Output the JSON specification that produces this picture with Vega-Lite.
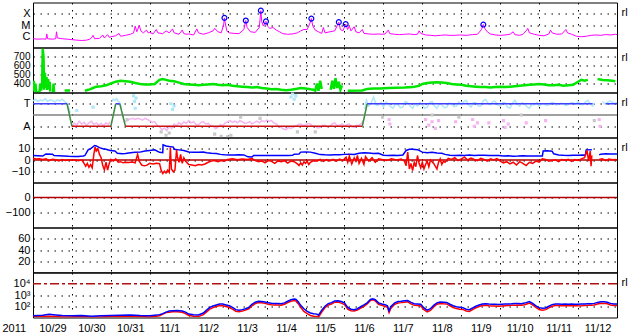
{
"$schema": "https://vega.github.io/schema/vega-lite/v6.json",
"background": "white",
"padding": {"left": 1, "top": 1.5, "right": 0, "bottom": 0},
"spacing": 0,
"bounds": "flush",
"config": {
 "view": {"stroke": "#000000", "strokeWidth": 1},
 "axis": {"grid": true, "gridColor": "#000000", "gridDash": [1.5, 5.5], "gridOpacity": 1, "gridWidth": 1, "domain": false, "ticks": false, "tickSize": 0, "labelFont": "Liberation Sans Narrow, Liberation Sans, sans-serif", "labelFontSize": 11, "labelColor": "#000000", "labelOverlap": false, "labelFlush": false, "labelBound": false, "labelPadding": 3, "titleFont": "Liberation Sans Narrow, Liberation Sans, sans-serif", "titleFontSize": 11, "titleFontWeight": "normal", "titleColor": "#000000", "titlePadding": 0}
},
"datasets": {
 "span": [{"t":"2011-10-29T00:00"},{"t":"2011-11-13T00:00"}],
 "xray": [
{"t":"2011-10-29T00:00","f":6e-7},{"t":"2011-10-29T03:00","f":5.5e-7},{"t":"2011-10-29T06:00","f":5.8e-7},{"t":"2011-10-29T08:00","f":5.5e-7},{"t":"2011-10-29T08:30","f":1.6e-6},{"t":"2011-10-29T09:00","f":6e-7},{"t":"2011-10-29T12:00","f":5.5e-7},{"t":"2011-10-29T14:00","f":6e-7},{"t":"2011-10-29T14:30","f":2.5e-6},{"t":"2011-10-29T15:00","f":7e-7},{"t":"2011-10-29T18:00","f":6e-7},{"t":"2011-10-29T21:00","f":5.5e-7},
{"t":"2011-10-30T00:00","f":5e-7},{"t":"2011-10-30T03:00","f":4.5e-7},{"t":"2011-10-30T06:00","f":4.2e-7},{"t":"2011-10-30T09:00","f":4.5e-7},{"t":"2011-10-30T11:00","f":5.5e-7},{"t":"2011-10-30T12:00","f":7e-7},{"t":"2011-10-30T13:00","f":1.2e-6},{"t":"2011-10-30T14:00","f":6e-7},{"t":"2011-10-30T17:00","f":6.5e-7},{"t":"2011-10-30T19:00","f":1.3e-6},{"t":"2011-10-30T20:00","f":7e-7},{"t":"2011-10-30T22:00","f":1.4e-6},{"t":"2011-10-30T23:00","f":8e-7},
{"t":"2011-10-31T00:00","f":9e-7},{"t":"2011-10-31T03:00","f":1.1e-6},{"t":"2011-10-31T05:00","f":1.8e-6},{"t":"2011-10-31T06:00","f":1e-6},{"t":"2011-10-31T09:00","f":1.2e-6},{"t":"2011-10-31T12:00","f":1.5e-6},{"t":"2011-10-31T14:00","f":2e-6},{"t":"2011-10-31T15:00","f":8e-6},{"t":"2011-10-31T16:00","f":2.5e-6},{"t":"2011-10-31T17:30","f":9e-6},{"t":"2011-10-31T18:30","f":3e-6},{"t":"2011-10-31T20:00","f":2e-6},{"t":"2011-10-31T22:00","f":3.5e-6},{"t":"2011-10-31T23:00","f":2e-6},
{"t":"2011-11-01T00:00","f":2.2e-6},{"t":"2011-11-01T02:00","f":1.6e-6},{"t":"2011-11-01T04:00","f":4e-6},{"t":"2011-11-01T05:00","f":2e-6},{"t":"2011-11-01T08:00","f":1.7e-6},{"t":"2011-11-01T10:00","f":3e-6},{"t":"2011-11-01T12:00","f":2e-6},{"t":"2011-11-01T14:00","f":4.5e-6},{"t":"2011-11-01T15:00","f":2e-6},{"t":"2011-11-01T18:00","f":1.5e-6},{"t":"2011-11-01T20:00","f":3.5e-6},{"t":"2011-11-01T21:00","f":1.7e-6},{"t":"2011-11-01T23:00","f":1.5e-6},
{"t":"2011-11-02T00:00","f":1.6e-6},{"t":"2011-11-02T03:00","f":1.3e-6},{"t":"2011-11-02T05:00","f":4.5e-6},{"t":"2011-11-02T06:00","f":2e-6},{"t":"2011-11-02T09:00","f":1.5e-6},{"t":"2011-11-02T12:00","f":2e-6},{"t":"2011-11-02T15:00","f":3e-6},{"t":"2011-11-02T16:00","f":5e-6},{"t":"2011-11-02T18:00","f":2.5e-6},{"t":"2011-11-02T20:00","f":2e-6},{"t":"2011-11-02T21:30","f":1e-5},{"t":"2011-11-02T22:01","f":4.3e-5},{"t":"2011-11-02T22:30","f":1.5e-5},{"t":"2011-11-02T23:30","f":3e-6},
{"t":"2011-11-03T01:00","f":2e-6},{"t":"2011-11-03T04:00","f":1.8e-6},{"t":"2011-11-03T07:00","f":1.7e-6},{"t":"2011-11-03T10:00","f":4e-6},{"t":"2011-11-03T11:11","f":2.5e-5},{"t":"2011-11-03T12:00","f":6e-6},{"t":"2011-11-03T14:00","f":2.5e-6},{"t":"2011-11-03T17:00","f":2.2e-6},{"t":"2011-11-03T19:30","f":6e-6},{"t":"2011-11-03T20:27","f":1.9e-4},{"t":"2011-11-03T21:00","f":2e-5},{"t":"2011-11-03T22:00","f":8e-6},{"t":"2011-11-03T23:36","f":2.1e-5},
{"t":"2011-11-04T00:30","f":8e-6},{"t":"2011-11-04T02:00","f":5e-6},{"t":"2011-11-04T04:00","f":6e-6},{"t":"2011-11-04T06:00","f":3.5e-6},{"t":"2011-11-04T08:00","f":2.5e-6},{"t":"2011-11-04T10:00","f":1.7e-6},{"t":"2011-11-04T13:00","f":1.5e-6},{"t":"2011-11-04T16:00","f":1.6e-6},{"t":"2011-11-04T19:00","f":2e-6},{"t":"2011-11-04T21:00","f":3e-6},{"t":"2011-11-04T23:00","f":4e-6},
{"t":"2011-11-05T01:00","f":4e-6},{"t":"2011-11-05T02:30","f":1.2e-5},{"t":"2011-11-05T03:35","f":3.7e-5},{"t":"2011-11-05T04:30","f":8e-6},{"t":"2011-11-05T06:00","f":3.5e-6},{"t":"2011-11-05T08:00","f":2.5e-6},{"t":"2011-11-05T10:00","f":1.8e-6},{"t":"2011-11-05T11:00","f":6e-6},{"t":"2011-11-05T12:00","f":2e-6},{"t":"2011-11-05T15:00","f":2.5e-6},{"t":"2011-11-05T18:00","f":3e-6},{"t":"2011-11-05T20:31","f":1.8e-5},{"t":"2011-11-05T21:30","f":4e-6},{"t":"2011-11-05T23:00","f":3e-6},
{"t":"2011-11-06T00:46","f":1.2e-5},{"t":"2011-11-06T02:00","f":4e-6},{"t":"2011-11-06T03:00","f":8e-6},{"t":"2011-11-06T04:00","f":3e-6},{"t":"2011-11-06T06:00","f":7e-6},{"t":"2011-11-06T07:00","f":2.5e-6},{"t":"2011-11-06T09:00","f":2e-6},{"t":"2011-11-06T11:00","f":4e-6},{"t":"2011-11-06T12:00","f":1.8e-6},{"t":"2011-11-06T15:00","f":1.6e-6},{"t":"2011-11-06T18:00","f":1.5e-6},{"t":"2011-11-06T21:00","f":1.6e-6},{"t":"2011-11-06T23:00","f":1.5e-6},
{"t":"2011-11-07T01:00","f":1.6e-6},{"t":"2011-11-07T03:00","f":3.5e-6},{"t":"2011-11-07T04:00","f":1.7e-6},{"t":"2011-11-07T07:00","f":1.5e-6},{"t":"2011-11-07T10:00","f":1.4e-6},{"t":"2011-11-07T13:00","f":1.5e-6},{"t":"2011-11-07T16:00","f":1.6e-6},{"t":"2011-11-07T19:00","f":1.4e-6},{"t":"2011-11-07T21:00","f":1.5e-6},{"t":"2011-11-07T22:00","f":3e-6},{"t":"2011-11-07T23:00","f":1.8e-6},
{"t":"2011-11-08T02:00","f":1.3e-6},{"t":"2011-11-08T05:00","f":1.2e-6},{"t":"2011-11-08T08:00","f":1.1e-6},{"t":"2011-11-08T11:00","f":1.2e-6},{"t":"2011-11-08T14:00","f":1.3e-6},{"t":"2011-11-08T17:00","f":1.2e-6},{"t":"2011-11-08T20:00","f":1.2e-6},{"t":"2011-11-08T23:00","f":1.3e-6},
{"t":"2011-11-09T03:00","f":1.2e-6},{"t":"2011-11-09T07:00","f":1.4e-6},{"t":"2011-11-09T10:00","f":1.5e-6},{"t":"2011-11-09T12:30","f":4e-6},{"t":"2011-11-09T13:35","f":1.1e-5},{"t":"2011-11-09T14:30","f":5e-6},{"t":"2011-11-09T16:00","f":2.5e-6},{"t":"2011-11-09T18:00","f":1.6e-6},{"t":"2011-11-09T21:00","f":1.3e-6},
{"t":"2011-11-10T00:00","f":1.2e-6},{"t":"2011-11-10T03:00","f":1.3e-6},{"t":"2011-11-10T06:00","f":1.5e-6},{"t":"2011-11-10T08:00","f":2.5e-6},{"t":"2011-11-10T09:00","f":1.4e-6},{"t":"2011-11-10T12:00","f":1.2e-6},{"t":"2011-11-10T14:00","f":1.5e-6},{"t":"2011-11-10T16:00","f":3e-6},{"t":"2011-11-10T17:00","f":5e-6},{"t":"2011-11-10T18:00","f":2e-6},{"t":"2011-11-10T21:00","f":1.5e-6},
{"t":"2011-11-11T00:00","f":1.2e-6},{"t":"2011-11-11T03:00","f":1.1e-6},{"t":"2011-11-11T06:00","f":1.6e-6},{"t":"2011-11-11T07:00","f":3.5e-6},{"t":"2011-11-11T08:00","f":2e-6},{"t":"2011-11-11T11:00","f":1.5e-6},{"t":"2011-11-11T14:00","f":1.6e-6},{"t":"2011-11-11T16:30","f":4e-6},{"t":"2011-11-11T17:30","f":2e-6},{"t":"2011-11-11T20:00","f":1.5e-6},{"t":"2011-11-11T23:00","f":1e-6},
{"t":"2011-11-12T02:00","f":9e-7},{"t":"2011-11-12T05:00","f":1e-6},{"t":"2011-11-12T08:00","f":1.2e-6},{"t":"2011-11-12T11:00","f":1.3e-6},{"t":"2011-11-12T14:00","f":1.2e-6},{"t":"2011-11-12T17:00","f":1.4e-6},{"t":"2011-11-12T20:00","f":1.3e-6},{"t":"2011-11-12T23:00","f":1.5e-6},{"t":"2011-11-12T23:59","f":1.4e-6}
 ],
 "flare": [
{"t":"2011-11-02T22:01","f":4.3e-5},{"t":"2011-11-03T11:11","f":2.5e-5},{"t":"2011-11-03T20:27","f":1.9e-4},{"t":"2011-11-03T23:36","f":2.1e-5},{"t":"2011-11-05T03:35","f":3.7e-5},{"t":"2011-11-05T20:31","f":1.8e-5},{"t":"2011-11-06T00:46","f":1.2e-5},{"t":"2011-11-09T13:35","f":1.1e-5}
 ],
 "sw": [
{"t":"2011-10-29T00:00","v":320},{"t":"2011-10-29T00:30","v":430},{"t":"2011-10-29T01:00","v":310},{"t":"2011-10-29T01:30","v":400},{"t":"2011-10-29T02:00","v":305},{"t":"2011-10-29T03:00","v":300},{"t":"2011-10-29T04:00","v":310},{"t":"2011-10-29T04:30","v":400},{"t":"2011-10-29T05:00","v":320},{"t":"2011-10-29T05:40","v":420},{"t":"2011-10-29T06:00","v":785},{"t":"2011-10-29T06:30","v":700},{"t":"2011-10-29T06:50","v":330},{"t":"2011-10-29T07:20","v":520},{"t":"2011-10-29T07:50","v":350},{"t":"2011-10-29T08:20","v":470},{"t":"2011-10-29T08:50","v":330},{"t":"2011-10-29T09:20","v":450},{"t":"2011-10-29T09:50","v":340},{"t":"2011-10-29T10:20","v":420},{"t":"2011-10-29T10:40","v":310},{"t":"2011-10-29T11:00","v":null},{"t":"2011-10-29T12:20","v":300},{"t":"2011-10-29T12:40","v":400},{"t":"2011-10-29T13:00","v":300},{"t":"2011-10-29T13:20","v":null},{"t":"2011-10-29T19:30","v":322},{"t":"2011-10-29T22:50","v":322},{"t":"2011-10-29T23:00","v":null},
{"t":"2011-10-30T08:00","v":320},{"t":"2011-10-30T10:00","v":330},{"t":"2011-10-30T11:00","v":335},{"t":"2011-10-30T13:00","v":350},{"t":"2011-10-30T15:00","v":365},{"t":"2011-10-30T18:00","v":370},{"t":"2011-10-30T21:00","v":380},
{"t":"2011-10-31T00:00","v":400},{"t":"2011-10-31T03:00","v":420},{"t":"2011-10-31T06:00","v":430},{"t":"2011-10-31T09:00","v":425},{"t":"2011-10-31T12:00","v":420},{"t":"2011-10-31T15:00","v":405},{"t":"2011-10-31T18:00","v":395},{"t":"2011-10-31T21:00","v":390},
{"t":"2011-11-01T00:00","v":390},{"t":"2011-11-01T03:00","v":395},{"t":"2011-11-01T06:00","v":440},{"t":"2011-11-01T08:00","v":450},{"t":"2011-11-01T10:00","v":440},{"t":"2011-11-01T12:00","v":430},{"t":"2011-11-01T15:00","v":425},{"t":"2011-11-01T18:00","v":410},{"t":"2011-11-01T21:00","v":395},
{"t":"2011-11-02T00:00","v":390},{"t":"2011-11-02T03:00","v":385},{"t":"2011-11-02T06:00","v":380},{"t":"2011-11-02T09:00","v":385},{"t":"2011-11-02T12:00","v":390},{"t":"2011-11-02T15:00","v":395},{"t":"2011-11-02T18:00","v":385},{"t":"2011-11-02T21:00","v":380},
{"t":"2011-11-03T00:00","v":385},{"t":"2011-11-03T03:00","v":375},{"t":"2011-11-03T06:00","v":370},{"t":"2011-11-03T09:00","v":365},{"t":"2011-11-03T12:00","v":360},{"t":"2011-11-03T15:00","v":355},{"t":"2011-11-03T18:00","v":360},{"t":"2011-11-03T21:00","v":350},
{"t":"2011-11-04T00:00","v":345},{"t":"2011-11-04T03:00","v":335},{"t":"2011-11-04T06:00","v":340},{"t":"2011-11-04T09:00","v":330},{"t":"2011-11-04T12:00","v":325},{"t":"2011-11-04T15:00","v":330},{"t":"2011-11-04T18:00","v":340},{"t":"2011-11-04T21:00","v":350},
{"t":"2011-11-05T00:00","v":345},{"t":"2011-11-05T03:00","v":335},{"t":"2011-11-05T05:00","v":330},{"t":"2011-11-05T06:00","v":320},{"t":"2011-11-05T07:00","v":400},{"t":"2011-11-05T08:00","v":320},{"t":"2011-11-05T09:00","v":430},{"t":"2011-11-05T10:00","v":340},{"t":"2011-11-05T10:30","v":null},{"t":"2011-11-05T15:30","v":330},{"t":"2011-11-05T16:30","v":430},{"t":"2011-11-05T17:30","v":340},{"t":"2011-11-05T18:30","v":460},{"t":"2011-11-05T19:30","v":350},{"t":"2011-11-05T20:30","v":420},{"t":"2011-11-05T21:30","v":330},{"t":"2011-11-05T22:30","v":380},{"t":"2011-11-05T23:00","v":null},
{"t":"2011-11-06T02:00","v":320},{"t":"2011-11-06T11:00","v":322},{"t":"2011-11-06T14:00","v":340},{"t":"2011-11-06T18:00","v":345},{"t":"2011-11-06T22:00","v":345},
{"t":"2011-11-07T03:00","v":350},{"t":"2011-11-07T08:00","v":352},{"t":"2011-11-07T13:00","v":355},{"t":"2011-11-07T18:00","v":360},{"t":"2011-11-07T22:00","v":375},
{"t":"2011-11-08T00:00","v":395},{"t":"2011-11-08T03:00","v":405},{"t":"2011-11-08T06:00","v":410},{"t":"2011-11-08T09:00","v":415},{"t":"2011-11-08T12:00","v":410},{"t":"2011-11-08T15:00","v":405},{"t":"2011-11-08T18:00","v":395},{"t":"2011-11-08T21:00","v":390},
{"t":"2011-11-09T00:00","v":385},{"t":"2011-11-09T03:00","v":375},{"t":"2011-11-09T06:00","v":370},{"t":"2011-11-09T09:00","v":365},{"t":"2011-11-09T12:00","v":360},{"t":"2011-11-09T15:00","v":360},{"t":"2011-11-09T18:00","v":355},{"t":"2011-11-09T21:00","v":360},
{"t":"2011-11-10T00:00","v":365},{"t":"2011-11-10T03:00","v":360},{"t":"2011-11-10T06:00","v":365},{"t":"2011-11-10T09:00","v":370},{"t":"2011-11-10T12:00","v":375},{"t":"2011-11-10T15:00","v":380},{"t":"2011-11-10T18:00","v":385},{"t":"2011-11-10T21:00","v":390},
{"t":"2011-11-11T00:00","v":395},{"t":"2011-11-11T03:00","v":390},{"t":"2011-11-11T06:00","v":380},{"t":"2011-11-11T09:00","v":380},{"t":"2011-11-11T12:00","v":385},{"t":"2011-11-11T15:00","v":375},{"t":"2011-11-11T18:00","v":380},{"t":"2011-11-11T21:00","v":385},
{"t":"2011-11-12T00:00","v":420},{"t":"2011-11-12T02:00","v":440},{"t":"2011-11-12T04:00","v":430},{"t":"2011-11-12T06:00","v":440},{"t":"2011-11-12T07:00","v":null},{"t":"2011-11-12T12:00","v":450},{"t":"2011-11-12T15:00","v":440},{"t":"2011-11-12T18:00","v":435},{"t":"2011-11-12T21:00","v":430},{"t":"2011-11-12T23:00","v":425}
 ],
 "phi": [
{"t":"2011-10-29T00:00","v":1.25,"k":"tw","s":"t1"},{"t":"2011-10-29T01:30","v":1.4,"k":"tw","s":"t1"},{"t":"2011-10-29T03:00","v":1.2,"k":"tw","s":"t1"},{"t":"2011-10-29T04:30","v":1.35,"k":"tw","s":"t1"},{"t":"2011-10-29T06:00","v":1.25,"k":"tw","s":"t1"},{"t":"2011-10-29T07:30","v":1.45,"k":"tw","s":"t1"},{"t":"2011-10-29T09:00","v":1.2,"k":"tw","s":"t1"},{"t":"2011-10-29T10:30","v":1.35,"k":"tw","s":"t1"},{"t":"2011-10-29T12:00","v":1.3,"k":"tw","s":"t1"},{"t":"2011-10-29T13:30","v":1.15,"k":"tw","s":"t1"},{"t":"2011-10-29T15:00","v":1.35,"k":"tw","s":"t1"},{"t":"2011-10-29T16:30","v":1.25,"k":"tw","s":"t1"},{"t":"2011-10-29T18:00","v":1.4,"k":"tw","s":"t1"},{"t":"2011-10-29T19:30","v":1.2,"k":"tw","s":"t1"},{"t":"2011-10-29T21:00","v":1.0,"k":"tw","s":"t1"},{"t":"2011-10-29T22:00","v":0.6,"k":"tw","s":"t1"},{"t":"2011-10-29T23:00","v":0.2,"k":"tw","s":"t1"},
{"t":"2011-10-30T00:00","v":-1.1,"k":"aw","s":"a1"},{"t":"2011-10-30T01:30","v":-0.7,"k":"aw","s":"a1"},{"t":"2011-10-30T03:00","v":-0.9,"k":"aw","s":"a1"},{"t":"2011-10-30T04:30","v":-0.55,"k":"aw","s":"a1"},{"t":"2011-10-30T06:00","v":-0.8,"k":"aw","s":"a1"},{"t":"2011-10-30T07:30","v":-0.65,"k":"aw","s":"a1"},{"t":"2011-10-30T09:00","v":-0.95,"k":"aw","s":"a1"},{"t":"2011-10-30T10:30","v":-0.7,"k":"aw","s":"a1"},{"t":"2011-10-30T12:00","v":-0.55,"k":"aw","s":"a1"},{"t":"2011-10-30T13:30","v":-0.85,"k":"aw","s":"a1"},{"t":"2011-10-30T15:00","v":-0.7,"k":"aw","s":"a1"},{"t":"2011-10-30T16:30","v":-0.9,"k":"aw","s":"a1"},{"t":"2011-10-30T18:00","v":-0.75,"k":"aw","s":"a1"},{"t":"2011-10-30T19:30","v":-0.95,"k":"aw","s":"a1"},{"t":"2011-10-30T21:00","v":-0.7,"k":"aw","s":"a1"},{"t":"2011-10-30T22:30","v":-0.85,"k":"aw","s":"a1"},{"t":"2011-10-30T23:30","v":-0.6,"k":"aw","s":"a1"},
{"t":"2011-10-31T00:30","v":1.2,"k":"tw","s":"t2"},{"t":"2011-10-31T01:30","v":1.4,"k":"tw","s":"t2"},{"t":"2011-10-31T02:30","v":1.3,"k":"tw","s":"t2"},{"t":"2011-10-31T03:30","v":1.45,"k":"tw","s":"t2"},{"t":"2011-10-31T04:30","v":1.25,"k":"tw","s":"t2"},{"t":"2011-10-31T05:30","v":1.1,"k":"tw","s":"t2"},{"t":"2011-10-31T06:30","v":0.6,"k":"tw","s":"t2"},
{"t":"2011-10-31T07:30","v":-0.5,"k":"aw","s":"a2"},{"t":"2011-10-31T09:00","v":-0.6,"k":"aw","s":"a2"},{"t":"2011-10-31T10:30","v":-0.45,"k":"aw","s":"a2"},{"t":"2011-10-31T12:00","v":-0.35,"k":"aw","s":"a2"},{"t":"2011-10-31T13:30","v":-0.3,"k":"aw","s":"a2"},{"t":"2011-10-31T15:00","v":-0.4,"k":"aw","s":"a2"},{"t":"2011-10-31T16:30","v":-0.3,"k":"aw","s":"a2"},{"t":"2011-10-31T18:00","v":-0.35,"k":"aw","s":"a2"},{"t":"2011-10-31T19:30","v":-0.45,"k":"aw","s":"a2"},{"t":"2011-10-31T21:00","v":-0.3,"k":"aw","s":"a2"},{"t":"2011-10-31T22:30","v":-0.4,"k":"aw","s":"a2"},
{"t":"2011-11-01T00:00","v":-0.5,"k":"aw","s":"a2"},{"t":"2011-11-01T01:30","v":-0.65,"k":"aw","s":"a2"},{"t":"2011-11-01T03:00","v":-0.6,"k":"aw","s":"a2"},{"t":"2011-11-01T04:30","v":-0.9,"k":"aw","s":"a2"},{"t":"2011-11-01T06:00","v":-1.05,"k":"aw","s":"a2"},{"t":"2011-11-01T07:30","v":-1.3,"k":"aw","s":"a2"},{"t":"2011-11-01T09:00","v":-1.15,"k":"aw","s":"a2"},{"t":"2011-11-01T10:30","v":-1.4,"k":"aw","s":"a2"},{"t":"2011-11-01T12:00","v":-1.0,"k":"aw","s":"a2"},{"t":"2011-11-01T13:30","v":-1.2,"k":"aw","s":"a2"},{"t":"2011-11-01T15:00","v":-0.8,"k":"aw","s":"a2"},{"t":"2011-11-01T16:30","v":-0.95,"k":"aw","s":"a2"},{"t":"2011-11-01T18:00","v":-0.7,"k":"aw","s":"a2"},{"t":"2011-11-01T19:30","v":-0.85,"k":"aw","s":"a2"},{"t":"2011-11-01T21:00","v":-0.6,"k":"aw","s":"a2"},{"t":"2011-11-01T22:30","v":-0.75,"k":"aw","s":"a2"},
{"t":"2011-11-02T00:00","v":-0.5,"k":"aw","s":"a2"},{"t":"2011-11-02T01:30","v":-0.7,"k":"aw","s":"a2"},{"t":"2011-11-02T03:00","v":-0.6,"k":"aw","s":"a2"},{"t":"2011-11-02T04:30","v":-0.85,"k":"aw","s":"a2"},{"t":"2011-11-02T06:00","v":-0.9,"k":"aw","s":"a2"},{"t":"2011-11-02T07:30","v":-0.65,"k":"aw","s":"a2"},{"t":"2011-11-02T09:00","v":-0.6,"k":"aw","s":"a2"},{"t":"2011-11-02T10:30","v":-0.8,"k":"aw","s":"a2"},{"t":"2011-11-02T12:00","v":-0.75,"k":"aw","s":"a2"},{"t":"2011-11-02T13:30","v":-0.95,"k":"aw","s":"a2"},{"t":"2011-11-02T15:00","v":-1.0,"k":"aw","s":"a2"},{"t":"2011-11-02T16:30","v":-1.2,"k":"aw","s":"a2"},{"t":"2011-11-02T18:00","v":-1.1,"k":"aw","s":"a2"},{"t":"2011-11-02T19:30","v":-0.85,"k":"aw","s":"a2"},{"t":"2011-11-02T21:00","v":-0.95,"k":"aw","s":"a2"},{"t":"2011-11-02T22:30","v":-0.7,"k":"aw","s":"a2"},
{"t":"2011-11-03T00:00","v":-0.6,"k":"aw","s":"a2"},{"t":"2011-11-03T01:30","v":-0.5,"k":"aw","s":"a2"},{"t":"2011-11-03T03:00","v":-0.65,"k":"aw","s":"a2"},{"t":"2011-11-03T04:30","v":-0.55,"k":"aw","s":"a2"},{"t":"2011-11-03T06:00","v":-0.7,"k":"aw","s":"a2"},{"t":"2011-11-03T07:30","v":-0.5,"k":"aw","s":"a2"},{"t":"2011-11-03T09:00","v":-0.6,"k":"aw","s":"a2"},{"t":"2011-11-03T10:30","v":-0.75,"k":"aw","s":"a2"},{"t":"2011-11-03T12:00","v":-0.7,"k":"aw","s":"a2"},{"t":"2011-11-03T13:30","v":-0.6,"k":"aw","s":"a2"},{"t":"2011-11-03T15:00","v":-0.8,"k":"aw","s":"a2"},{"t":"2011-11-03T16:30","v":-0.65,"k":"aw","s":"a2"},{"t":"2011-11-03T18:00","v":-0.55,"k":"aw","s":"a2"},{"t":"2011-11-03T19:30","v":-0.7,"k":"aw","s":"a2"},{"t":"2011-11-03T21:00","v":-0.5,"k":"aw","s":"a2"},{"t":"2011-11-03T22:30","v":-0.6,"k":"aw","s":"a2"},
{"t":"2011-11-04T00:00","v":-0.45,"k":"aw","s":"a2"},{"t":"2011-11-04T01:30","v":-0.55,"k":"aw","s":"a2"},{"t":"2011-11-04T03:00","v":-0.5,"k":"aw","s":"a2"},{"t":"2011-11-04T04:30","v":-0.7,"k":"aw","s":"a2"},{"t":"2011-11-04T06:00","v":-0.8,"k":"aw","s":"a2"},{"t":"2011-11-04T07:30","v":-1.0,"k":"aw","s":"a2"},{"t":"2011-11-04T09:00","v":-1.1,"k":"aw","s":"a2"},{"t":"2011-11-04T10:30","v":-1.25,"k":"aw","s":"a2"},{"t":"2011-11-04T12:00","v":-1.3,"k":"aw","s":"a2"},{"t":"2011-11-04T13:30","v":-1.1,"k":"aw","s":"a2"},{"t":"2011-11-04T15:00","v":-1.2,"k":"aw","s":"a2"},{"t":"2011-11-04T16:30","v":-1.05,"k":"aw","s":"a2"},{"t":"2011-11-04T18:00","v":-1.0,"k":"aw","s":"a2"},{"t":"2011-11-04T19:30","v":-0.85,"k":"aw","s":"a2"},{"t":"2011-11-04T21:00","v":-0.8,"k":"aw","s":"a2"},{"t":"2011-11-04T22:30","v":-0.9,"k":"aw","s":"a2"},
{"t":"2011-11-05T00:00","v":-0.9,"k":"aw","s":"a2"},{"t":"2011-11-05T01:30","v":-0.75,"k":"aw","s":"a2"},{"t":"2011-11-05T03:00","v":-0.8,"k":"aw","s":"a2"},{"t":"2011-11-05T04:30","v":-1.0,"k":"aw","s":"a2"},{"t":"2011-11-05T06:00","v":-1.0,"k":"aw","s":"a2"},{"t":"2011-11-05T07:30","v":-1.15,"k":"aw","s":"a2"},{"t":"2011-11-05T09:00","v":-1.1,"k":"aw","s":"a2"},{"t":"2011-11-05T10:30","v":-0.9,"k":"aw","s":"a2"},{"t":"2011-11-05T12:00","v":-0.9,"k":"aw","s":"a2"},{"t":"2011-11-05T13:30","v":-1.05,"k":"aw","s":"a2"},{"t":"2011-11-05T15:00","v":-1.0,"k":"aw","s":"a2"},{"t":"2011-11-05T16:30","v":-0.8,"k":"aw","s":"a2"},{"t":"2011-11-05T18:00","v":-0.7,"k":"aw","s":"a2"},{"t":"2011-11-05T19:30","v":-0.95,"k":"aw","s":"a2"},{"t":"2011-11-05T21:00","v":-0.9,"k":"aw","s":"a2"},{"t":"2011-11-05T22:30","v":-0.8,"k":"aw","s":"a2"},
{"t":"2011-11-06T00:00","v":-1.0,"k":"aw","s":"a2"},{"t":"2011-11-06T01:30","v":-0.85,"k":"aw","s":"a2"},{"t":"2011-11-06T03:00","v":-0.8,"k":"aw","s":"a2"},{"t":"2011-11-06T04:30","v":-1.05,"k":"aw","s":"a2"},{"t":"2011-11-06T06:00","v":-1.1,"k":"aw","s":"a2"},{"t":"2011-11-06T07:30","v":-0.9,"k":"aw","s":"a2"},{"t":"2011-11-06T09:00","v":-0.9,"k":"aw","s":"a2"},{"t":"2011-11-06T10:30","v":-0.75,"k":"aw","s":"a2"},{"t":"2011-11-06T11:30","v":-0.5,"k":"aw","s":"a2"},
{"t":"2011-11-06T12:30","v":0.5,"k":"tw","s":"t3"},{"t":"2011-11-06T13:30","v":1.3,"k":"tw","s":"t3"},{"t":"2011-11-06T15:00","v":0.8,"k":"tw","s":"t3"},{"t":"2011-11-06T16:30","v":1.1,"k":"tw","s":"t3"},{"t":"2011-11-06T18:00","v":1.6,"k":"tw","s":"t3"},{"t":"2011-11-06T19:30","v":0.9,"k":"tw","s":"t3"},{"t":"2011-11-06T21:00","v":0.9,"k":"tw","s":"t3"},{"t":"2011-11-06T22:30","v":1.1,"k":"tw","s":"t3"},
{"t":"2011-11-07T00:00","v":0.7,"k":"tw","s":"t3"},{"t":"2011-11-07T01:30","v":1.15,"k":"tw","s":"t3"},{"t":"2011-11-07T03:00","v":1.0,"k":"tw","s":"t3"},{"t":"2011-11-07T04:30","v":0.75,"k":"tw","s":"t3"},{"t":"2011-11-07T06:00","v":0.6,"k":"tw","s":"t3"},{"t":"2011-11-07T07:30","v":1.0,"k":"tw","s":"t3"},{"t":"2011-11-07T09:00","v":0.9,"k":"tw","s":"t3"},{"t":"2011-11-07T10:30","v":0.65,"k":"tw","s":"t3"},{"t":"2011-11-07T12:00","v":0.7,"k":"tw","s":"t3"},{"t":"2011-11-07T13:30","v":1.2,"k":"tw","s":"t3"},{"t":"2011-11-07T15:00","v":1.1,"k":"tw","s":"t3"},{"t":"2011-11-07T16:30","v":0.8,"k":"tw","s":"t3"},{"t":"2011-11-07T18:00","v":0.6,"k":"tw","s":"t3"},{"t":"2011-11-07T19:30","v":1.0,"k":"tw","s":"t3"},{"t":"2011-11-07T21:00","v":0.8,"k":"tw","s":"t3"},{"t":"2011-11-07T22:30","v":1.1,"k":"tw","s":"t3"},
{"t":"2011-11-08T00:00","v":0.9,"k":"tw","s":"t3"},{"t":"2011-11-08T01:30","v":0.6,"k":"tw","s":"t3"},{"t":"2011-11-08T03:00","v":0.7,"k":"tw","s":"t3"},{"t":"2011-11-08T04:30","v":1.1,"k":"tw","s":"t3"},{"t":"2011-11-08T06:00","v":1.2,"k":"tw","s":"t3"},{"t":"2011-11-08T07:30","v":0.8,"k":"tw","s":"t3"},{"t":"2011-11-08T09:00","v":0.6,"k":"tw","s":"t3"},{"t":"2011-11-08T10:30","v":1.0,"k":"tw","s":"t3"},{"t":"2011-11-08T12:00","v":0.9,"k":"tw","s":"t3"},{"t":"2011-11-08T13:30","v":0.65,"k":"tw","s":"t3"},{"t":"2011-11-08T15:00","v":0.7,"k":"tw","s":"t3"},{"t":"2011-11-08T16:30","v":1.05,"k":"tw","s":"t3"},{"t":"2011-11-08T18:00","v":1.0,"k":"tw","s":"t3"},{"t":"2011-11-08T19:30","v":0.75,"k":"tw","s":"t3"},{"t":"2011-11-08T21:00","v":0.8,"k":"tw","s":"t3"},{"t":"2011-11-08T22:30","v":1.15,"k":"tw","s":"t3"},
{"t":"2011-11-09T00:00","v":0.9,"k":"tw","s":"t3"},{"t":"2011-11-09T01:30","v":1.2,"k":"tw","s":"t3"},{"t":"2011-11-09T03:00","v":1.3,"k":"tw","s":"t3"},{"t":"2011-11-09T04:30","v":0.9,"k":"tw","s":"t3"},{"t":"2011-11-09T06:00","v":0.7,"k":"tw","s":"t3"},{"t":"2011-11-09T07:30","v":1.1,"k":"tw","s":"t3"},{"t":"2011-11-09T09:00","v":1.1,"k":"tw","s":"t3"},{"t":"2011-11-09T10:30","v":0.8,"k":"tw","s":"t3"},{"t":"2011-11-09T12:00","v":0.8,"k":"tw","s":"t3"},{"t":"2011-11-09T13:30","v":1.25,"k":"tw","s":"t3"},{"t":"2011-11-09T15:00","v":1.4,"k":"tw","s":"t3"},{"t":"2011-11-09T16:30","v":1.0,"k":"tw","s":"t3"},{"t":"2011-11-09T18:00","v":0.9,"k":"tw","s":"t3"},{"t":"2011-11-09T19:30","v":1.2,"k":"tw","s":"t3"},{"t":"2011-11-09T21:00","v":1.2,"k":"tw","s":"t3"},{"t":"2011-11-09T22:30","v":0.9,"k":"tw","s":"t3"},
{"t":"2011-11-10T00:00","v":0.8,"k":"tw","s":"t3"},{"t":"2011-11-10T01:30","v":1.1,"k":"tw","s":"t3"},{"t":"2011-11-10T03:00","v":1.1,"k":"tw","s":"t3"},{"t":"2011-11-10T04:30","v":0.7,"k":"tw","s":"t3"},{"t":"2011-11-10T06:00","v":0.6,"k":"tw","s":"t3"},{"t":"2011-11-10T07:30","v":1.0,"k":"tw","s":"t3"},{"t":"2011-11-10T09:00","v":1.3,"k":"tw","s":"t3"},{"t":"2011-11-10T10:30","v":1.0,"k":"tw","s":"t3"},{"t":"2011-11-10T12:00","v":0.8,"k":"tw","s":"t3"},{"t":"2011-11-10T13:30","v":1.1,"k":"tw","s":"t3"},{"t":"2011-11-10T15:00","v":1.0,"k":"tw","s":"t3"},{"t":"2011-11-10T16:30","v":0.75,"k":"tw","s":"t3"},{"t":"2011-11-10T18:00","v":0.6,"k":"tw","s":"t3"},{"t":"2011-11-10T19:30","v":0.95,"k":"tw","s":"t3"},{"t":"2011-11-10T21:00","v":0.9,"k":"tw","s":"t3"},{"t":"2011-11-10T22:30","v":1.1,"k":"tw","s":"t3"},
{"t":"2011-11-11T00:00","v":0.8,"k":"tw","s":"t3"},{"t":"2011-11-11T01:30","v":1.0,"k":"tw","s":"t3"},{"t":"2011-11-11T03:00","v":1.0,"k":"tw","s":"t3"},{"t":"2011-11-11T04:30","v":0.85,"k":"tw","s":"t3"},{"t":"2011-11-11T06:00","v":0.9,"k":"tw","s":"t3"},{"t":"2011-11-11T07:30","v":1.1,"k":"tw","s":"t3"},{"t":"2011-11-11T09:00","v":1.1,"k":"tw","s":"t3"},{"t":"2011-11-11T10:30","v":0.9,"k":"tw","s":"t3"},{"t":"2011-11-11T12:00","v":0.95,"k":"tw","s":"t3"},{"t":"2011-11-11T13:30","v":1.05,"k":"tw","s":"t3"},{"t":"2011-11-11T15:00","v":1.0,"k":"tw","s":"t3"},{"t":"2011-11-11T16:30","v":0.85,"k":"tw","s":"t3"},{"t":"2011-11-11T18:00","v":0.9,"k":"tw","s":"t3"},{"t":"2011-11-11T19:30","v":1.1,"k":"tw","s":"t3"},{"t":"2011-11-11T21:00","v":1.1,"k":"tw","s":"t3"},{"t":"2011-11-11T22:30","v":0.95,"k":"tw","s":"t3"},
{"t":"2011-11-12T00:00","v":1.2,"k":"tw","s":"t3"},{"t":"2011-11-12T01:30","v":1.0,"k":"tw","s":"t3"},{"t":"2011-11-12T03:00","v":0.9,"k":"tw","s":"t3"},{"t":"2011-11-12T04:30","v":1.15,"k":"tw","s":"t3"},{"t":"2011-11-12T06:00","v":1.3,"k":"tw","s":"t3"},{"t":"2011-11-12T07:30","v":1.0,"k":"tw","s":"t3"},{"t":"2011-11-12T09:00","v":0.8,"k":"tw","s":"t3"},{"t":"2011-11-12T10:00","v":1.1,"k":"tw","s":"t3"},
{"t":"2011-11-12T15:00","v":1.2,"k":"tw","s":"t4"},{"t":"2011-11-12T16:30","v":1.0,"k":"tw","s":"t4"},{"t":"2011-11-12T18:00","v":1.1,"k":"tw","s":"t4"},{"t":"2011-11-12T19:30","v":1.25,"k":"tw","s":"t4"},{"t":"2011-11-12T21:00","v":1.15,"k":"tw","s":"t4"},{"t":"2011-11-12T22:30","v":1.05,"k":"tw","s":"t4"},{"t":"2011-11-12T23:59","v":1.1,"k":"tw","s":"t4"}
 ],
 "dots": [
{"t":"2011-10-30T03:00","v":0.4,"k":"tw"},{"t":"2011-10-30T13:00","v":0.7,"k":"tw"},{"t":"2011-10-31T14:00","v":1.7,"k":"tw"},{"t":"2011-10-31T14:30","v":1.2,"k":"tw"},{"t":"2011-10-31T15:00","v":0.6,"k":"tw"},{"t":"2011-10-31T15:30","v":1.5,"k":"tw"},{"t":"2011-11-01T13:00","v":1.0,"k":"tw"},{"t":"2011-11-01T14:00","v":0.5,"k":"tw"},{"t":"2011-11-01T15:00","v":0.8,"k":"tw"},{"t":"2011-11-04T15:00","v":1.6,"k":"tw"},{"t":"2011-11-04T16:00","v":1.9,"k":"tw"},{"t":"2011-11-04T17:00","v":1.4,"k":"tw"},{"t":"2011-11-04T18:00","v":1.7,"k":"tw"},
{"t":"2011-11-07T03:30","v":-0.4,"k":"aw"},{"t":"2011-11-07T04:00","v":-0.8,"k":"aw"},{"t":"2011-11-08T02:00","v":-0.4,"k":"aw"},{"t":"2011-11-08T04:00","v":-0.9,"k":"aw"},{"t":"2011-11-08T06:00","v":-0.6,"k":"aw"},{"t":"2011-11-08T08:00","v":-1.2,"k":"aw"},{"t":"2011-11-08T10:00","v":-0.5,"k":"aw"},{"t":"2011-11-08T20:30","v":-0.6,"k":"aw"},{"t":"2011-11-09T07:00","v":-0.4,"k":"aw"},{"t":"2011-11-09T08:00","v":-1.0,"k":"aw"},{"t":"2011-11-09T10:00","v":-0.7,"k":"aw"},{"t":"2011-11-09T17:00","v":-0.7,"k":"aw"},{"t":"2011-11-10T02:00","v":-0.5,"k":"aw"},{"t":"2011-11-10T03:00","v":-1.1,"k":"aw"},{"t":"2011-11-10T05:00","v":-0.8,"k":"aw"},{"t":"2011-11-10T16:00","v":-0.7,"k":"aw"},{"t":"2011-11-11T04:00","v":-0.5,"k":"aw"},{"t":"2011-11-12T13:00","v":-0.4,"k":"aw"},{"t":"2011-11-12T13:30","v":-1.0,"k":"aw"},
{"t":"2011-10-31T10:00","v":-0.4,"k":"gy"},{"t":"2011-11-01T07:00","v":-1.5,"k":"gy"},{"t":"2011-11-01T10:00","v":-1.8,"k":"gy"},{"t":"2011-11-01T12:00","v":-1.6,"k":"gy"},{"t":"2011-11-02T16:00","v":-1.7,"k":"gy"},{"t":"2011-11-02T20:00","v":-1.9,"k":"gy"},{"t":"2011-11-03T00:00","v":-1.95,"k":"gy"},{"t":"2011-11-03T02:00","v":-1.8,"k":"gy"},{"t":"2011-11-03T08:00","v":-0.2,"k":"gy"},{"t":"2011-11-03T20:00","v":-0.3,"k":"gy"},{"t":"2011-11-04T19:00","v":-1.5,"k":"gy"},{"t":"2011-11-05T06:00","v":-1.5,"k":"gy"},{"t":"2011-11-06T23:30","v":-0.2,"k":"gy"},{"t":"2011-11-08T06:00","v":0.0,"k":"gy"},{"t":"2011-11-08T22:30","v":-0.2,"k":"gy"},{"t":"2011-11-10T13:00","v":0.0,"k":"gy"},{"t":"2011-11-12T10:00","v":-0.5,"k":"gy"}
 ],
 "sector": [
{"t":"2011-10-29T00:00","v":1,"k":"toward","s":"s1"},{"t":"2011-10-29T21:00","v":1,"k":"toward","s":"s1"},
{"t":"2011-10-29T21:00","v":1,"k":"trans","s":"s2"},{"t":"2011-10-30T00:00","v":-1,"k":"trans","s":"s2"},
{"t":"2011-10-30T00:00","v":-1,"k":"away","s":"s3"},{"t":"2011-10-31T00:00","v":-1,"k":"away","s":"s3"},
{"t":"2011-10-31T00:00","v":-1,"k":"trans","s":"s4"},{"t":"2011-10-31T03:00","v":1,"k":"trans","s":"s4"},
{"t":"2011-10-31T03:00","v":1,"k":"toward","s":"s5"},{"t":"2011-10-31T05:30","v":1,"k":"toward","s":"s5"},
{"t":"2011-10-31T05:30","v":1,"k":"trans","s":"s6"},{"t":"2011-10-31T09:00","v":-1,"k":"trans","s":"s6"},
{"t":"2011-10-31T09:00","v":-1,"k":"away","s":"s7"},{"t":"2011-11-06T11:00","v":-1,"k":"away","s":"s7"},
{"t":"2011-11-06T11:00","v":-1,"k":"trans","s":"s8"},{"t":"2011-11-06T14:00","v":1,"k":"trans","s":"s8"},
{"t":"2011-11-06T14:00","v":1,"k":"toward","s":"s9"},{"t":"2011-11-12T09:00","v":1,"k":"toward","s":"s9"},
{"t":"2011-11-12T17:00","v":1,"k":"toward","s":"s10"},{"t":"2011-11-13T00:00","v":1,"k":"toward","s":"s10"}
 ],
 "bt": [
{"t":"2011-10-29T00:00","v":4.0},{"t":"2011-10-29T03:00","v":3.8},{"t":"2011-10-29T06:00","v":3.5},{"t":"2011-10-29T08:00","v":5.4},{"t":"2011-10-29T12:00","v":5.2},{"t":"2011-10-29T13:00","v":3.9},{"t":"2011-10-29T16:00","v":3.8},{"t":"2011-10-29T19:00","v":3.6},{"t":"2011-10-29T22:00","v":3.3},
{"t":"2011-10-30T01:00","v":3.1},{"t":"2011-10-30T04:00","v":3.2},{"t":"2011-10-30T07:00","v":3.5},{"t":"2011-10-30T08:00","v":4.0},{"t":"2011-10-30T09:00","v":6.5},{"t":"2011-10-30T10:00","v":9.0},{"t":"2011-10-30T12:00","v":10.5},{"t":"2011-10-30T14:00","v":12.9},{"t":"2011-10-30T15:00","v":12.5},{"t":"2011-10-30T17:00","v":11.0},{"t":"2011-10-30T19:00","v":10.0},{"t":"2011-10-30T21:00","v":9.5},{"t":"2011-10-30T23:30","v":8.5},
{"t":"2011-10-31T02:30","v":8.0},{"t":"2011-10-31T04:00","v":6.0},{"t":"2011-10-31T07:00","v":5.5},{"t":"2011-10-31T09:00","v":5.8},{"t":"2011-10-31T12:00","v":6.5},{"t":"2011-10-31T15:00","v":6.8},{"t":"2011-10-31T18:00","v":7.0},{"t":"2011-10-31T21:00","v":8.0},
{"t":"2011-11-01T00:00","v":8.5},{"t":"2011-11-01T03:00","v":9.0},{"t":"2011-11-01T06:00","v":6.8},{"t":"2011-11-01T08:00","v":6.5},{"t":"2011-11-01T08:10","v":13.5},{"t":"2011-11-01T10:00","v":12.5},{"t":"2011-11-01T12:00","v":12.0},{"t":"2011-11-01T14:30","v":11.5},{"t":"2011-11-01T15:00","v":9.5},{"t":"2011-11-01T18:00","v":9.0},{"t":"2011-11-01T21:00","v":8.5},
{"t":"2011-11-02T00:00","v":7.2},{"t":"2011-11-02T03:00","v":7.0},{"t":"2011-11-02T06:00","v":7.0},{"t":"2011-11-02T09:00","v":7.2},{"t":"2011-11-02T11:00","v":6.5},{"t":"2011-11-02T14:00","v":6.0},{"t":"2011-11-02T17:00","v":5.8},{"t":"2011-11-02T19:30","v":5.0},{"t":"2011-11-02T22:00","v":4.6},
{"t":"2011-11-03T01:00","v":4.5},{"t":"2011-11-03T04:00","v":4.4},{"t":"2011-11-03T07:00","v":4.6},{"t":"2011-11-03T10:00","v":4.5},{"t":"2011-11-03T12:30","v":2.8},{"t":"2011-11-03T15:00","v":2.6},{"t":"2011-11-03T16:00","v":4.0},{"t":"2011-11-03T19:00","v":4.0},{"t":"2011-11-03T22:00","v":4.1},
{"t":"2011-11-04T01:00","v":4.0},{"t":"2011-11-04T04:00","v":3.9},{"t":"2011-11-04T07:00","v":4.0},{"t":"2011-11-04T10:00","v":4.1},{"t":"2011-11-04T13:00","v":4.0},{"t":"2011-11-04T16:00","v":4.2},{"t":"2011-11-04T17:00","v":5.2},{"t":"2011-11-04T20:00","v":5.3},{"t":"2011-11-04T21:00","v":7.0},
{"t":"2011-11-05T00:00","v":7.1},{"t":"2011-11-05T03:00","v":7.0},{"t":"2011-11-05T06:00","v":6.0},{"t":"2011-11-05T09:00","v":4.8},{"t":"2011-11-05T12:00","v":4.6},{"t":"2011-11-05T15:00","v":4.5},{"t":"2011-11-05T18:00","v":4.7},{"t":"2011-11-05T21:00","v":4.6},
{"t":"2011-11-06T00:00","v":5.0},{"t":"2011-11-06T03:00","v":5.2},{"t":"2011-11-06T06:00","v":5.0},{"t":"2011-11-06T09:00","v":6.0},{"t":"2011-11-06T12:00","v":6.5},{"t":"2011-11-06T15:00","v":6.2},{"t":"2011-11-06T18:00","v":5.8},{"t":"2011-11-06T21:00","v":6.0},
{"t":"2011-11-07T00:00","v":4.2},{"t":"2011-11-07T03:00","v":4.0},{"t":"2011-11-07T06:00","v":4.3},{"t":"2011-11-07T09:00","v":4.1},{"t":"2011-11-07T12:00","v":4.5},{"t":"2011-11-07T14:00","v":8.5},{"t":"2011-11-07T16:00","v":9.5},{"t":"2011-11-07T18:00","v":9.6},{"t":"2011-11-07T21:00","v":9.2},
{"t":"2011-11-08T00:00","v":7.0},{"t":"2011-11-08T03:00","v":6.5},{"t":"2011-11-08T06:00","v":6.8},{"t":"2011-11-08T09:00","v":6.2},{"t":"2011-11-08T12:00","v":6.0},{"t":"2011-11-08T14:00","v":5.0},{"t":"2011-11-08T17:00","v":4.2},{"t":"2011-11-08T20:00","v":4.0},{"t":"2011-11-08T23:00","v":4.3},
{"t":"2011-11-09T02:00","v":4.1},{"t":"2011-11-09T05:00","v":4.4},{"t":"2011-11-09T08:00","v":4.0},{"t":"2011-11-09T11:00","v":4.2},{"t":"2011-11-09T14:00","v":4.3},{"t":"2011-11-09T17:00","v":4.0},{"t":"2011-11-09T20:00","v":4.1},{"t":"2011-11-09T23:00","v":4.0},
{"t":"2011-11-10T02:00","v":3.6},{"t":"2011-11-10T05:00","v":3.8},{"t":"2011-11-10T08:00","v":3.4},{"t":"2011-11-10T11:00","v":3.5},{"t":"2011-11-10T14:00","v":3.7},{"t":"2011-11-10T17:00","v":3.5},{"t":"2011-11-10T20:00","v":3.6},{"t":"2011-11-10T23:00","v":3.5},
{"t":"2011-11-11T02:00","v":3.6},{"t":"2011-11-11T02:30","v":8.0},{"t":"2011-11-11T05:00","v":8.2},{"t":"2011-11-11T08:00","v":7.8},{"t":"2011-11-11T09:00","v":5.5},{"t":"2011-11-11T12:00","v":4.5},{"t":"2011-11-11T15:00","v":4.2},{"t":"2011-11-11T18:00","v":4.0},{"t":"2011-11-11T21:00","v":4.3},
{"t":"2011-11-12T00:00","v":4.2},{"t":"2011-11-12T03:00","v":4.5},{"t":"2011-11-12T04:30","v":4.3},{"t":"2011-11-12T05:00","v":9.0},{"t":"2011-11-12T08:30","v":9.2},{"t":"2011-11-12T09:00","v":null},{"t":"2011-11-12T13:00","v":4.5},{"t":"2011-11-12T14:00","v":5.2},{"t":"2011-11-12T17:00","v":5.5},{"t":"2011-11-12T20:00","v":5.3},{"t":"2011-11-12T23:00","v":5.4},{"t":"2011-11-12T23:59","v":5.4}
 ],
 "bz": [
{"t":"2011-10-29T00:00","v":1.5},{"t":"2011-10-29T02:00","v":0.8},{"t":"2011-10-29T04:00","v":1.2},{"t":"2011-10-29T06:00","v":0.5},{"t":"2011-10-29T08:00","v":1.0},{"t":"2011-10-29T10:00","v":-0.5},{"t":"2011-10-29T12:00","v":0.6},{"t":"2011-10-29T14:00","v":0.2},{"t":"2011-10-29T16:00","v":-0.8},{"t":"2011-10-29T18:00","v":0.5},{"t":"2011-10-29T20:00","v":-0.5},{"t":"2011-10-29T22:00","v":0.3},
{"t":"2011-10-30T00:00","v":-0.3},{"t":"2011-10-30T02:00","v":0.2},{"t":"2011-10-30T04:00","v":-0.6},{"t":"2011-10-30T06:00","v":0.1},{"t":"2011-10-30T07:30","v":-3},{"t":"2011-10-30T08:30","v":-5.5},{"t":"2011-10-30T09:30","v":-3},{"t":"2011-10-30T10:30","v":-6.5},{"t":"2011-10-30T11:30","v":-4},{"t":"2011-10-30T12:30","v":-7},{"t":"2011-10-30T13:30","v":5},{"t":"2011-10-30T14:15","v":11.5},{"t":"2011-10-30T15:00","v":8},{"t":"2011-10-30T16:00","v":10},{"t":"2011-10-30T17:00","v":5},{"t":"2011-10-30T18:00","v":2},{"t":"2011-10-30T19:00","v":-5},{"t":"2011-10-30T20:00","v":-8.8},{"t":"2011-10-30T21:00","v":-2},{"t":"2011-10-30T22:00","v":-9},{"t":"2011-10-30T23:00","v":-3},
{"t":"2011-10-31T00:00","v":0.5},{"t":"2011-10-31T01:30","v":-1},{"t":"2011-10-31T03:00","v":1},{"t":"2011-10-31T04:30","v":-2},{"t":"2011-10-31T06:00","v":-1.5},{"t":"2011-10-31T07:30","v":-2.5},{"t":"2011-10-31T09:00","v":-2},{"t":"2011-10-31T11:00","v":-2.2},{"t":"2011-10-31T13:00","v":-1.8},{"t":"2011-10-31T15:00","v":-2.5},{"t":"2011-10-31T16:30","v":5},{"t":"2011-10-31T17:30","v":-1},{"t":"2011-10-31T19:00","v":-4.5},{"t":"2011-10-31T20:30","v":-5.2},{"t":"2011-10-31T22:00","v":-4.8},
{"t":"2011-11-01T00:00","v":-3},{"t":"2011-11-01T02:00","v":-3.5},{"t":"2011-11-01T04:00","v":-2.8},{"t":"2011-11-01T06:00","v":-3.2},{"t":"2011-11-01T07:00","v":-9},{"t":"2011-11-01T08:00","v":-12},{"t":"2011-11-01T09:00","v":-10},{"t":"2011-11-01T10:00","v":-11.5},{"t":"2011-11-01T11:00","v":-9},{"t":"2011-11-01T12:00","v":-11},{"t":"2011-11-01T12:40","v":11},{"t":"2011-11-01T13:20","v":-8},{"t":"2011-11-01T14:30","v":-10.5},{"t":"2011-11-01T15:30","v":-9},{"t":"2011-11-01T16:30","v":9},{"t":"2011-11-01T17:00","v":3},{"t":"2011-11-01T18:00","v":-2},{"t":"2011-11-01T19:00","v":5},{"t":"2011-11-01T20:00","v":-3},{"t":"2011-11-01T21:00","v":2},{"t":"2011-11-01T22:00","v":-1},
{"t":"2011-11-02T00:00","v":-4},{"t":"2011-11-02T02:00","v":-4.5},{"t":"2011-11-02T04:00","v":-5},{"t":"2011-11-02T06:00","v":-4},{"t":"2011-11-02T08:00","v":-4.5},{"t":"2011-11-02T10:00","v":-3.5},{"t":"2011-11-02T12:00","v":-2},{"t":"2011-11-02T14:00","v":-1},{"t":"2011-11-02T16:00","v":-0.5},{"t":"2011-11-02T18:00","v":-1.5},{"t":"2011-11-02T20:00","v":-0.5},{"t":"2011-11-02T22:00","v":-1},
{"t":"2011-11-03T00:00","v":0.5},{"t":"2011-11-03T03:00","v":1},{"t":"2011-11-03T06:00","v":0.2},{"t":"2011-11-03T09:00","v":0.8},{"t":"2011-11-03T12:00","v":0.5},{"t":"2011-11-03T15:00","v":1.2},{"t":"2011-11-03T17:00","v":-0.5},{"t":"2011-11-03T19:00","v":-1.5},{"t":"2011-11-03T21:00","v":-0.8},{"t":"2011-11-03T23:00","v":-2.5},
{"t":"2011-11-04T01:00","v":-0.5},{"t":"2011-11-04T03:00","v":-1.2},{"t":"2011-11-04T05:00","v":-3},{"t":"2011-11-04T07:00","v":-0.8},{"t":"2011-11-04T09:00","v":-1.5},{"t":"2011-11-04T11:00","v":-0.6},{"t":"2011-11-04T13:00","v":-2.8},{"t":"2011-11-04T15:00","v":-1},{"t":"2011-11-04T17:00","v":-1.5},{"t":"2011-11-04T19:00","v":-3.5},{"t":"2011-11-04T20:00","v":-5},{"t":"2011-11-04T21:00","v":-2.5},{"t":"2011-11-04T22:00","v":-4.5},{"t":"2011-11-04T23:00","v":-1.5},
{"t":"2011-11-05T00:00","v":-3},{"t":"2011-11-05T01:00","v":-1},{"t":"2011-11-05T02:00","v":-4},{"t":"2011-11-05T03:00","v":-2},{"t":"2011-11-05T05:00","v":-0.5},{"t":"2011-11-05T07:00","v":-1},{"t":"2011-11-05T09:00","v":0.5},{"t":"2011-11-05T11:00","v":-1.2},{"t":"2011-11-05T13:00","v":0.3},{"t":"2011-11-05T15:00","v":-0.8},{"t":"2011-11-05T17:00","v":0.5},{"t":"2011-11-05T19:00","v":-1},{"t":"2011-11-05T21:00","v":0.8},{"t":"2011-11-05T23:00","v":-0.5},
{"t":"2011-11-06T01:00","v":2.5},{"t":"2011-11-06T02:00","v":-2},{"t":"2011-11-06T03:00","v":3.5},{"t":"2011-11-06T04:30","v":-3.5},{"t":"2011-11-06T06:00","v":2},{"t":"2011-11-06T07:00","v":-1},{"t":"2011-11-06T08:00","v":4},{"t":"2011-11-06T09:00","v":-3},{"t":"2011-11-06T10:30","v":1.5},{"t":"2011-11-06T12:00","v":-4},{"t":"2011-11-06T13:00","v":3},{"t":"2011-11-06T15:00","v":-1},{"t":"2011-11-06T17:00","v":2},{"t":"2011-11-06T19:00","v":-2},{"t":"2011-11-06T21:00","v":1},{"t":"2011-11-06T23:00","v":0.5},
{"t":"2011-11-07T02:00","v":-0.5},{"t":"2011-11-07T05:00","v":1},{"t":"2011-11-07T08:00","v":0},{"t":"2011-11-07T11:00","v":0.8},{"t":"2011-11-07T13:00","v":-1},{"t":"2011-11-07T14:00","v":-5},{"t":"2011-11-07T15:00","v":7},{"t":"2011-11-07T16:00","v":-8},{"t":"2011-11-07T17:00","v":-3},{"t":"2011-11-07T18:00","v":-9.5},{"t":"2011-11-07T19:00","v":-2},{"t":"2011-11-07T20:00","v":-6},{"t":"2011-11-07T21:00","v":4},{"t":"2011-11-07T22:00","v":-3},{"t":"2011-11-07T23:00","v":-7},
{"t":"2011-11-08T00:00","v":-2},{"t":"2011-11-08T01:00","v":-8},{"t":"2011-11-08T02:00","v":-4},{"t":"2011-11-08T03:00","v":-1},{"t":"2011-11-08T04:00","v":-6},{"t":"2011-11-08T05:00","v":0},{"t":"2011-11-08T07:00","v":-3},{"t":"2011-11-08T09:00","v":-8},{"t":"2011-11-08T10:00","v":-2},{"t":"2011-11-08T11:00","v":1},{"t":"2011-11-08T12:00","v":-4},{"t":"2011-11-08T13:00","v":-1},{"t":"2011-11-08T14:00","v":-2},{"t":"2011-11-08T16:00","v":1.5},{"t":"2011-11-08T18:00","v":0.5},{"t":"2011-11-08T20:00","v":2},{"t":"2011-11-08T22:00","v":-0.5},
{"t":"2011-11-09T00:00","v":1},{"t":"2011-11-09T02:00","v":2.5},{"t":"2011-11-09T04:00","v":0},{"t":"2011-11-09T06:00","v":1.8},{"t":"2011-11-09T08:00","v":0.5},{"t":"2011-11-09T10:00","v":-0.5},{"t":"2011-11-09T12:00","v":1.5},{"t":"2011-11-09T14:00","v":0.5},{"t":"2011-11-09T16:00","v":-1},{"t":"2011-11-09T18:00","v":1},{"t":"2011-11-09T20:00","v":0},{"t":"2011-11-09T22:00","v":1.2},
{"t":"2011-11-10T00:00","v":-1},{"t":"2011-11-10T02:00","v":-2.5},{"t":"2011-11-10T04:00","v":-1.5},{"t":"2011-11-10T06:00","v":-3.5},{"t":"2011-11-10T08:00","v":-2},{"t":"2011-11-10T10:00","v":-4.5},{"t":"2011-11-10T12:00","v":-1.5},{"t":"2011-11-10T14:00","v":-3},{"t":"2011-11-10T16:00","v":-5},{"t":"2011-11-10T18:00","v":-2},{"t":"2011-11-10T20:00","v":-3},{"t":"2011-11-10T22:00","v":-1},
{"t":"2011-11-11T00:00","v":-2},{"t":"2011-11-11T02:00","v":1},{"t":"2011-11-11T04:00","v":0.5},{"t":"2011-11-11T06:00","v":-1},{"t":"2011-11-11T08:00","v":-0.5},{"t":"2011-11-11T10:00","v":0.2},{"t":"2011-11-11T12:00","v":-1.5},{"t":"2011-11-11T14:00","v":0.5},{"t":"2011-11-11T16:00","v":-0.2},{"t":"2011-11-11T18:00","v":0.6},{"t":"2011-11-11T20:00","v":-1.2},{"t":"2011-11-11T22:00","v":0.3},
{"t":"2011-11-12T00:00","v":-0.5},{"t":"2011-11-12T02:00","v":1},{"t":"2011-11-12T04:00","v":2},{"t":"2011-11-12T05:30","v":8.5},{"t":"2011-11-12T06:30","v":-1},{"t":"2011-11-12T07:30","v":8},{"t":"2011-11-12T08:00","v":-5.5},{"t":"2011-11-12T08:30","v":4},{"t":"2011-11-12T09:00","v":null},{"t":"2011-11-12T13:00","v":0.5},{"t":"2011-11-12T15:00","v":1},{"t":"2011-11-12T17:00","v":-0.5},{"t":"2011-11-12T19:00","v":0.8},{"t":"2011-11-12T21:00","v":0.2},{"t":"2011-11-12T23:00","v":0.5},{"t":"2011-11-12T23:59","v":0.3}
 ],
 "elec": [
{"t":"2011-10-29T00:00","b":14,"r":12},{"t":"2011-10-29T06:00","b":16,"r":12},{"t":"2011-10-29T10:00","b":19,"r":13},{"t":"2011-10-29T14:00","b":17,"r":12},{"t":"2011-10-29T18:00","b":15,"r":11},
{"t":"2011-10-30T00:00","b":14,"r":11},{"t":"2011-10-30T06:00","b":15,"r":12},{"t":"2011-10-30T12:00","b":13,"r":11},{"t":"2011-10-30T18:00","b":14,"r":11},
{"t":"2011-10-31T00:00","b":15,"r":12},{"t":"2011-10-31T06:00","b":16,"r":12},{"t":"2011-10-31T12:00","b":17,"r":13},{"t":"2011-10-31T18:00","b":15,"r":12},
{"t":"2011-11-01T00:00","b":14,"r":11},{"t":"2011-11-01T03:00","b":16,"r":12},{"t":"2011-11-01T06:00","b":18,"r":14},{"t":"2011-11-01T08:00","b":22,"r":20},{"t":"2011-11-01T10:00","b":30,"r":28},{"t":"2011-11-01T12:00","b":38,"r":30},{"t":"2011-11-01T14:00","b":40,"r":32},{"t":"2011-11-01T17:00","b":42,"r":33},{"t":"2011-11-01T20:00","b":38,"r":29},{"t":"2011-11-01T22:00","b":30,"r":22},
{"t":"2011-11-02T00:00","b":20,"r":15},{"t":"2011-11-02T03:00","b":18,"r":13},{"t":"2011-11-02T06:00","b":17,"r":12},{"t":"2011-11-02T09:00","b":25,"r":18},{"t":"2011-11-02T11:00","b":45,"r":32},{"t":"2011-11-02T13:00","b":80,"r":55},{"t":"2011-11-02T15:00","b":105,"r":75},{"t":"2011-11-02T17:00","b":130,"r":95},{"t":"2011-11-02T19:00","b":160,"r":115},{"t":"2011-11-02T21:00","b":155,"r":110},{"t":"2011-11-02T23:00","b":130,"r":95},
{"t":"2011-11-03T01:00","b":110,"r":78},{"t":"2011-11-03T03:00","b":80,"r":55},{"t":"2011-11-03T05:00","b":50,"r":36},{"t":"2011-11-03T07:00","b":45,"r":33},{"t":"2011-11-03T09:00","b":50,"r":37},{"t":"2011-11-03T11:00","b":60,"r":45},{"t":"2011-11-03T13:00","b":80,"r":60},{"t":"2011-11-03T15:00","b":150,"r":110},{"t":"2011-11-03T17:00","b":230,"r":170},{"t":"2011-11-03T19:00","b":280,"r":210},{"t":"2011-11-03T21:00","b":270,"r":200},{"t":"2011-11-03T23:00","b":240,"r":180},
{"t":"2011-11-04T01:00","b":200,"r":150},{"t":"2011-11-04T03:00","b":185,"r":135},{"t":"2011-11-04T05:00","b":180,"r":130},{"t":"2011-11-04T07:00","b":175,"r":130},{"t":"2011-11-04T09:00","b":170,"r":125},{"t":"2011-11-04T11:00","b":200,"r":150},{"t":"2011-11-04T13:00","b":280,"r":210},{"t":"2011-11-04T15:00","b":380,"r":280},{"t":"2011-11-04T17:00","b":430,"r":320},{"t":"2011-11-04T18:00","b":420,"r":300},{"t":"2011-11-04T19:30","b":250,"r":170},{"t":"2011-11-04T21:00","b":120,"r":80},{"t":"2011-11-04T23:00","b":60,"r":35},
{"t":"2011-11-05T01:00","b":35,"r":22},{"t":"2011-11-05T03:00","b":25,"r":15},{"t":"2011-11-05T05:00","b":22,"r":13},{"t":"2011-11-05T07:00","b":20,"r":12},{"t":"2011-11-05T08:00","b":16,"r":11},{"t":"2011-11-05T10:00","b":45,"r":30},{"t":"2011-11-05T12:00","b":100,"r":75},{"t":"2011-11-05T14:00","b":170,"r":125},{"t":"2011-11-05T16:00","b":210,"r":160},{"t":"2011-11-05T18:00","b":300,"r":230},{"t":"2011-11-05T20:00","b":310,"r":235},{"t":"2011-11-05T22:00","b":260,"r":190},
{"t":"2011-11-06T00:00","b":200,"r":140},{"t":"2011-11-06T02:00","b":80,"r":55},{"t":"2011-11-06T04:00","b":55,"r":40},{"t":"2011-11-06T06:00","b":50,"r":38},{"t":"2011-11-06T08:00","b":60,"r":45},{"t":"2011-11-06T10:00","b":90,"r":68},{"t":"2011-11-06T12:00","b":130,"r":100},{"t":"2011-11-06T14:00","b":200,"r":160},{"t":"2011-11-06T16:00","b":400,"r":320},{"t":"2011-11-06T17:30","b":460,"r":380},{"t":"2011-11-06T19:00","b":380,"r":300},{"t":"2011-11-06T21:00","b":200,"r":150},{"t":"2011-11-06T23:00","b":160,"r":120},
{"t":"2011-11-07T01:00","b":140,"r":100},{"t":"2011-11-07T02:30","b":110,"r":80},{"t":"2011-11-07T03:30","b":40,"r":28},{"t":"2011-11-07T04:30","b":90,"r":65},{"t":"2011-11-07T07:00","b":200,"r":150},{"t":"2011-11-07T09:00","b":260,"r":195},{"t":"2011-11-07T11:00","b":280,"r":210},{"t":"2011-11-07T13:00","b":310,"r":230},{"t":"2011-11-07T15:00","b":330,"r":250},{"t":"2011-11-07T17:00","b":220,"r":160},{"t":"2011-11-07T19:00","b":170,"r":120},{"t":"2011-11-07T21:00","b":160,"r":115},{"t":"2011-11-07T23:00","b":150,"r":105},
{"t":"2011-11-08T01:00","b":70,"r":50},{"t":"2011-11-08T03:00","b":45,"r":32},{"t":"2011-11-08T05:00","b":60,"r":42},{"t":"2011-11-08T07:00","b":120,"r":85},{"t":"2011-11-08T09:00","b":200,"r":150},{"t":"2011-11-08T11:00","b":240,"r":175},{"t":"2011-11-08T13:00","b":230,"r":165},{"t":"2011-11-08T15:00","b":220,"r":160},{"t":"2011-11-08T17:00","b":150,"r":110},{"t":"2011-11-08T19:00","b":110,"r":78},{"t":"2011-11-08T21:00","b":90,"r":62},{"t":"2011-11-08T23:00","b":80,"r":55},
{"t":"2011-11-09T01:00","b":75,"r":52},{"t":"2011-11-09T03:00","b":55,"r":38},{"t":"2011-11-09T05:00","b":50,"r":35},{"t":"2011-11-09T07:00","b":70,"r":50},{"t":"2011-11-09T09:00","b":100,"r":72},{"t":"2011-11-09T11:00","b":130,"r":95},{"t":"2011-11-09T13:00","b":160,"r":115},{"t":"2011-11-09T15:00","b":165,"r":120},{"t":"2011-11-09T17:00","b":155,"r":110},{"t":"2011-11-09T19:00","b":150,"r":105},{"t":"2011-11-09T21:00","b":150,"r":105},{"t":"2011-11-09T23:00","b":145,"r":100},
{"t":"2011-11-10T01:00","b":150,"r":105},{"t":"2011-11-10T03:00","b":155,"r":110},{"t":"2011-11-10T05:00","b":160,"r":115},{"t":"2011-11-10T07:00","b":165,"r":120},{"t":"2011-11-10T09:00","b":175,"r":125},{"t":"2011-11-10T11:00","b":180,"r":130},{"t":"2011-11-10T13:00","b":170,"r":122},{"t":"2011-11-10T15:00","b":190,"r":138},{"t":"2011-11-10T16:00","b":210,"r":150},{"t":"2011-11-10T18:00","b":260,"r":190},{"t":"2011-11-10T20:00","b":180,"r":130},{"t":"2011-11-10T22:00","b":110,"r":78},
{"t":"2011-11-11T00:00","b":75,"r":52},{"t":"2011-11-11T02:00","b":65,"r":45},{"t":"2011-11-11T04:00","b":70,"r":50},{"t":"2011-11-11T06:00","b":100,"r":72},{"t":"2011-11-11T08:00","b":140,"r":100},{"t":"2011-11-11T10:00","b":160,"r":115},{"t":"2011-11-11T12:00","b":160,"r":118},{"t":"2011-11-11T14:00","b":150,"r":112},{"t":"2011-11-11T16:00","b":155,"r":115},{"t":"2011-11-11T18:00","b":150,"r":110},{"t":"2011-11-11T20:00","b":155,"r":112},{"t":"2011-11-11T22:00","b":150,"r":110},
{"t":"2011-11-12T00:00","b":150,"r":108},{"t":"2011-11-12T02:00","b":155,"r":112},{"t":"2011-11-12T04:00","b":160,"r":118},{"t":"2011-11-12T06:00","b":165,"r":120},{"t":"2011-11-12T08:00","b":170,"r":125},{"t":"2011-11-12T10:00","b":180,"r":130},{"t":"2011-11-12T12:00","b":220,"r":160},{"t":"2011-11-12T14:00","b":250,"r":185},{"t":"2011-11-12T16:00","b":250,"r":180},{"t":"2011-11-12T18:00","b":230,"r":165},{"t":"2011-11-12T20:00","b":180,"r":130},{"t":"2011-11-12T22:00","b":160,"r":115},{"t":"2011-11-12T23:59","b":160,"r":115}
 ]
},
"vconcat": [
 {"width": 584, "height": 45, "resolve": {"axis": {"x": "independent", "y": "independent"}}, "layer": [
  {"data": {"name": "xray"}, "mark": {"type": "line", "color": "#ff00ff", "strokeWidth": 1, "clip": true},
   "encoding": {
    "x": {"field": "t", "type": "temporal", "scale": {"domain": [{"year":2011,"month":10,"date":29},{"year":2011,"month":11,"date":13}], "nice": false}, "axis": {"values": [{"year":2011,"month":10,"date":29},{"year":2011,"month":10,"date":30},{"year":2011,"month":10,"date":31},{"year":2011,"month":11,"date":1},{"year":2011,"month":11,"date":2},{"year":2011,"month":11,"date":3},{"year":2011,"month":11,"date":4},{"year":2011,"month":11,"date":5},{"year":2011,"month":11,"date":6},{"year":2011,"month":11,"date":7},{"year":2011,"month":11,"date":8},{"year":2011,"month":11,"date":9},{"year":2011,"month":11,"date":10},{"year":2011,"month":11,"date":11},{"year":2011,"month":11,"date":12}], "labels": false, "title": null}},
    "y": {"field": "f", "type": "quantitative", "scale": {"type": "log", "domain": [1e-7, 1e-3], "nice": false}, "axis": {"values": [1e-4, 1e-5, 1e-6], "labelExpr": "datum.value > 5e-5 ? 'X' : (datum.value > 5e-6 ? 'M' : 'C')", "gridOpacity": {"condition": {"test": "datum.value < 5e-6", "value": 0}, "value": 1}, "title": "rl", "titleAngle": 0, "titleX": 588, "titleY": 10, "titleAlign": "left", "titleBaseline": "middle"}}
   }},
  {"data": {"name": "flare"}, "mark": {"type": "point", "shape": "circle", "filled": false, "color": "#0000ff", "size": 24, "strokeWidth": 1.2, "opacity": 1, "clip": true},
   "encoding": {
    "x": {"field": "t", "type": "temporal", "scale": {"domain": [{"year":2011,"month":10,"date":29},{"year":2011,"month":11,"date":13}], "nice": false}, "axis": null},
    "y": {"field": "f", "type": "quantitative", "scale": {"type": "log", "domain": [1e-7, 1e-3], "nice": false}, "axis": null}
   }}
 ]},
 {"width": 584, "height": 45, "layer": [
  {"data": {"name": "sw"}, "mark": {"type": "line", "color": "#00e600", "strokeWidth": 2.5, "clip": true},
   "encoding": {
    "x": {"field": "t", "type": "temporal", "scale": {"domain": [{"year":2011,"month":10,"date":29},{"year":2011,"month":11,"date":13}], "nice": false}, "axis": {"values": [{"year":2011,"month":10,"date":29},{"year":2011,"month":10,"date":30},{"year":2011,"month":10,"date":31},{"year":2011,"month":11,"date":1},{"year":2011,"month":11,"date":2},{"year":2011,"month":11,"date":3},{"year":2011,"month":11,"date":4},{"year":2011,"month":11,"date":5},{"year":2011,"month":11,"date":6},{"year":2011,"month":11,"date":7},{"year":2011,"month":11,"date":8},{"year":2011,"month":11,"date":9},{"year":2011,"month":11,"date":10},{"year":2011,"month":11,"date":11},{"year":2011,"month":11,"date":12}], "labels": false, "title": null}},
    "y": {"field": "v", "type": "quantitative", "scale": {"domain": [300, 800], "nice": false, "zero": false}, "axis": {"values": [700, 600, 500, 400], "labelFontSize": 10, "title": "rl", "titleAngle": 0, "titleX": 588, "titleY": 10, "titleAlign": "left", "titleBaseline": "middle"}}
   }}
 ]},
 {"width": 584, "height": 45, "resolve": {"axis": {"x": "independent", "y": "independent"}}, "layer": [
  {"data": {"name": "phi"}, "mark": {"type": "line", "strokeWidth": 1.5, "clip": true},
   "encoding": {
    "x": {"field": "t", "type": "temporal", "scale": {"domain": [{"year":2011,"month":10,"date":29},{"year":2011,"month":11,"date":13}], "nice": false}, "axis": {"values": [{"year":2011,"month":10,"date":29},{"year":2011,"month":10,"date":30},{"year":2011,"month":10,"date":31},{"year":2011,"month":11,"date":1},{"year":2011,"month":11,"date":2},{"year":2011,"month":11,"date":3},{"year":2011,"month":11,"date":4},{"year":2011,"month":11,"date":5},{"year":2011,"month":11,"date":6},{"year":2011,"month":11,"date":7},{"year":2011,"month":11,"date":8},{"year":2011,"month":11,"date":9},{"year":2011,"month":11,"date":10},{"year":2011,"month":11,"date":11},{"year":2011,"month":11,"date":12}], "labels": false, "title": null}},
    "y": {"field": "v", "type": "quantitative", "scale": {"domain": [-2, 2], "nice": false, "zero": false}, "axis": {"values": [1, -1], "labelExpr": "datum.value > 0 ? 'T' : 'A'", "title": "rl", "titleAngle": 0, "titleX": 588, "titleY": 10, "titleAlign": "left", "titleBaseline": "middle"}},
    "color": {"field": "k", "type": "nominal", "scale": {"domain": ["toward","away","trans","tw","aw","gy"], "range": ["#4040ff","#cc1010","#3c8c3c","#aee6fa","#f5b5f0","#c8c8c8"]}, "legend": null},
    "detail": {"field": "s", "type": "nominal"}
   }},
  {"data": {"values": [{}]}, "mark": {"type": "rule", "color": "#808080", "strokeWidth": 1.5},
   "encoding": {"y": {"datum": 0, "type": "quantitative", "scale": {"domain": [-2, 2], "nice": false, "zero": false}, "axis": null}}},
  {"data": {"name": "dots"}, "mark": {"type": "point", "shape": "square", "filled": true, "size": 10, "opacity": 1, "clip": true},
   "encoding": {
    "x": {"field": "t", "type": "temporal", "scale": {"domain": [{"year":2011,"month":10,"date":29},{"year":2011,"month":11,"date":13}], "nice": false}, "axis": null},
    "y": {"field": "v", "type": "quantitative", "scale": {"domain": [-2, 2], "nice": false, "zero": false}, "axis": null},
    "color": {"field": "k", "type": "nominal", "scale": {"domain": ["toward","away","trans","tw","aw","gy"], "range": ["#4040ff","#cc1010","#3c8c3c","#aee6fa","#f5b5f0","#c8c8c8"]}, "legend": null}
   }},
  {"data": {"name": "sector"}, "mark": {"type": "line", "strokeWidth": 1.5, "clip": true},
   "encoding": {
    "x": {"field": "t", "type": "temporal", "scale": {"domain": [{"year":2011,"month":10,"date":29},{"year":2011,"month":11,"date":13}], "nice": false}, "axis": null},
    "y": {"field": "v", "type": "quantitative", "scale": {"domain": [-2, 2], "nice": false, "zero": false}, "axis": null},
    "color": {"field": "k", "type": "nominal", "scale": {"domain": ["toward","away","trans","tw","aw","gy"], "range": ["#4040ff","#cc1010","#3c8c3c","#aee6fa","#f5b5f0","#c8c8c8"]}, "legend": null},
    "detail": {"field": "s", "type": "nominal"}
   }}
 ]},
 {"width": 584, "height": 45, "resolve": {"axis": {"x": "independent", "y": "independent"}}, "layer": [
  {"data": {"name": "bt"}, "mark": {"type": "line", "color": "#0000ff", "strokeWidth": 1.5, "clip": true},
   "encoding": {
    "x": {"field": "t", "type": "temporal", "scale": {"domain": [{"year":2011,"month":10,"date":29},{"year":2011,"month":11,"date":13}], "nice": false}, "axis": {"values": [{"year":2011,"month":10,"date":29},{"year":2011,"month":10,"date":30},{"year":2011,"month":10,"date":31},{"year":2011,"month":11,"date":1},{"year":2011,"month":11,"date":2},{"year":2011,"month":11,"date":3},{"year":2011,"month":11,"date":4},{"year":2011,"month":11,"date":5},{"year":2011,"month":11,"date":6},{"year":2011,"month":11,"date":7},{"year":2011,"month":11,"date":8},{"year":2011,"month":11,"date":9},{"year":2011,"month":11,"date":10},{"year":2011,"month":11,"date":11},{"year":2011,"month":11,"date":12}], "labels": false, "title": null}},
    "y": {"field": "v", "type": "quantitative", "scale": {"domain": [-20, 20], "nice": false, "zero": false}, "axis": {"values": [10, 0, -10], "title": "rl", "titleAngle": 0, "titleX": 588, "titleY": 10, "titleAlign": "left", "titleBaseline": "middle"}}
   }},
  {"data": {"values": [{}]}, "mark": {"type": "rule", "color": "#b00000", "strokeWidth": 1.5},
   "encoding": {"y": {"datum": 0, "type": "quantitative", "scale": {"domain": [-20, 20], "nice": false, "zero": false}, "axis": null}}},
  {"data": {"name": "bz"}, "mark": {"type": "line", "color": "#ff0000", "strokeWidth": 1.5, "clip": true},
   "encoding": {
    "x": {"field": "t", "type": "temporal", "scale": {"domain": [{"year":2011,"month":10,"date":29},{"year":2011,"month":11,"date":13}], "nice": false}, "axis": null},
    "y": {"field": "v", "type": "quantitative", "scale": {"domain": [-20, 20], "nice": false, "zero": false}, "axis": null}
   }}
 ]},
 {"width": 584, "height": 45, "layer": [
  {"data": {"name": "span"}, "mark": {"type": "line", "color": "#b00000", "strokeWidth": 1.5, "clip": true},
   "encoding": {
    "x": {"field": "t", "type": "temporal", "scale": {"domain": [{"year":2011,"month":10,"date":29},{"year":2011,"month":11,"date":13}], "nice": false}, "axis": {"values": [{"year":2011,"month":10,"date":29},{"year":2011,"month":10,"date":30},{"year":2011,"month":10,"date":31},{"year":2011,"month":11,"date":1},{"year":2011,"month":11,"date":2},{"year":2011,"month":11,"date":3},{"year":2011,"month":11,"date":4},{"year":2011,"month":11,"date":5},{"year":2011,"month":11,"date":6},{"year":2011,"month":11,"date":7},{"year":2011,"month":11,"date":8},{"year":2011,"month":11,"date":9},{"year":2011,"month":11,"date":10},{"year":2011,"month":11,"date":11},{"year":2011,"month":11,"date":12}], "labels": false, "title": null}},
    "y": {"datum": 0, "type": "quantitative", "scale": {"domain": [-200, 100], "nice": false, "zero": false}, "axis": {"values": [0, -100], "title": null}}
   }}
 ]},
 {"width": 584, "height": 45, "layer": [
  {"data": {"name": "span"}, "mark": {"type": "line", "color": "#000000", "strokeWidth": 1, "clip": true},
   "encoding": {
    "x": {"field": "t", "type": "temporal", "scale": {"domain": [{"year":2011,"month":10,"date":29},{"year":2011,"month":11,"date":13}], "nice": false}, "axis": {"values": [{"year":2011,"month":10,"date":29},{"year":2011,"month":10,"date":30},{"year":2011,"month":10,"date":31},{"year":2011,"month":11,"date":1},{"year":2011,"month":11,"date":2},{"year":2011,"month":11,"date":3},{"year":2011,"month":11,"date":4},{"year":2011,"month":11,"date":5},{"year":2011,"month":11,"date":6},{"year":2011,"month":11,"date":7},{"year":2011,"month":11,"date":8},{"year":2011,"month":11,"date":9},{"year":2011,"month":11,"date":10},{"year":2011,"month":11,"date":11},{"year":2011,"month":11,"date":12}], "labels": false, "title": null}},
    "y": {"datum": 0, "type": "quantitative", "scale": {"domain": [0, 80], "nice": false, "zero": false}, "axis": {"values": [60, 40, 20], "title": null}}
   }}
 ]},
 {"width": 584, "height": 45, "resolve": {"axis": {"x": "independent", "y": "independent"}}, "layer": [
  {"data": {"name": "elec"}, "mark": {"type": "line", "color": "#ff0000", "strokeWidth": 1.5, "clip": true},
   "encoding": {
    "x": {"field": "t", "type": "temporal", "scale": {"domain": [{"year":2011,"month":10,"date":29},{"year":2011,"month":11,"date":13}], "nice": false}, "axis": {"values": [{"year":2011,"month":10,"date":29},{"year":2011,"month":10,"date":30},{"year":2011,"month":10,"date":31},{"year":2011,"month":11,"date":1},{"year":2011,"month":11,"date":2},{"year":2011,"month":11,"date":3},{"year":2011,"month":11,"date":4},{"year":2011,"month":11,"date":5},{"year":2011,"month":11,"date":6},{"year":2011,"month":11,"date":7},{"year":2011,"month":11,"date":8},{"year":2011,"month":11,"date":9},{"year":2011,"month":11,"date":10},{"year":2011,"month":11,"date":11},{"year":2011,"month":11,"date":12}], "labels": true, "labelOffset": 19.47, "labelExpr": "(month(datum.value)+1) + '/' + date(datum.value)", "labelPadding": 14, "labelBaseline": "alphabetic", "title": "2011", "titleX": -31, "titleY": 14, "titleAlign": "left", "titleBaseline": "alphabetic", "titleAnchor": "start"}},
    "y": {"field": "r", "type": "quantitative", "scale": {"type": "log", "domain": [10, 100000], "nice": false}, "axis": {"values": [10000, 1000, 100], "labelExpr": "datum.value > 5000 ? '10⁴' : (datum.value > 500 ? '10³' : '10²')", "gridOpacity": {"condition": {"test": "datum.value > 5000", "value": 0}, "value": 1}, "title": "rl", "titleAngle": 0, "titleX": 588, "titleY": 10, "titleAlign": "left", "titleBaseline": "middle"}}
   }},
  {"data": {"name": "elec"}, "mark": {"type": "line", "color": "#0000ff", "strokeWidth": 1.5, "clip": true},
   "encoding": {
    "x": {"field": "t", "type": "temporal", "scale": {"domain": [{"year":2011,"month":10,"date":29},{"year":2011,"month":11,"date":13}], "nice": false}, "axis": null},
    "y": {"field": "b", "type": "quantitative", "scale": {"type": "log", "domain": [10, 100000], "nice": false}, "axis": null}
   }},
  {"data": {"values": [{}]}, "mark": {"type": "rule", "color": "#b01010", "strokeWidth": 1.5, "strokeDash": [9, 3, 3, 3]},
   "encoding": {"y": {"datum": 10000, "type": "quantitative", "scale": {"type": "log", "domain": [10, 100000], "nice": false}, "axis": null}}}
 ]}
]
}
